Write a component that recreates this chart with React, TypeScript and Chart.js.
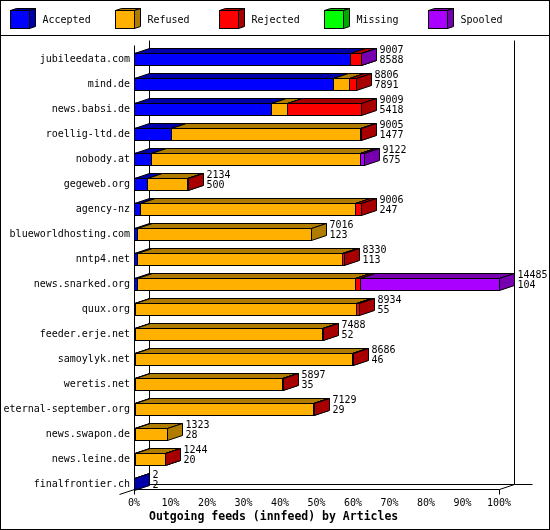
import React, { useEffect, useRef } from "react";
import { Chart, registerables } from "chart.js";

Chart.register(...registerables);

// ---- data ----
const categories = [
  "jubileedata.com",
  "mind.de",
  "news.babsi.de",
  "roellig-ltd.de",
  "nobody.at",
  "gegeweb.org",
  "agency-nz",
  "blueworldhosting.com",
  "nntp4.net",
  "news.snarked.org",
  "quux.org",
  "feeder.erje.net",
  "samoylyk.net",
  "weretis.net",
  "eternal-september.org",
  "news.swapon.de",
  "news.leine.de",
  "finalfrontier.ch",
];
const totals = [9007, 8806, 9009, 9005, 9122, 2134, 9006, 7016, 8330, 14485, 8934, 7488, 8686, 5897, 7129, 1323, 1244, 2];
const accepted = [8588, 7891, 5418, 1477, 675, 500, 247, 123, 113, 104, 55, 52, 46, 35, 29, 28, 20, 2];
const refused = [0, 660, 640, 7500, 8275, 1620, 8540, 6893, 8130, 8660, 8740, 7420, 8603, 5833, 7075, 1295, 1200, 0];
const rejected = [410, 255, 2951, 28, 10, 14, 219, 0, 87, 185, 139, 16, 37, 29, 25, 0, 24, 0];
const missing = [0, 0, 0, 0, 0, 0, 0, 0, 0, 0, 0, 0, 0, 0, 0, 0, 0, 0];
const spooled = [9, 0, 0, 0, 162, 0, 0, 0, 0, 5536, 0, 0, 0, 0, 0, 0, 0, 0];

const seriesNames = ["Accepted", "Refused", "Rejected", "Missing", "Spooled"];
const seriesValues = [accepted, refused, rejected, missing, spooled];
const frontColors = ["#0000ff", "#ffb000", "#ff0000", "#00ff00", "#aa00ff"];
const darkColors = ["#0000a8", "#b07c00", "#a80000", "#00a800", "#7600b0"];
const xTitle = "Outgoing feeds (innfeed) by Articles";

const FONT = '"DejaVu Sans Mono", "Liberation Mono", monospace';
const DX = 15;
const DY = 5;

const maxTotal = Math.max(...totals);

function drawBox(
  ctx: CanvasRenderingContext2D,
  xl: number,
  xr: number,
  yt: number,
  yb: number,
  front: string,
  dark: string,
  dx: number,
  dy: number
) {
  ctx.lineWidth = 1;
  ctx.strokeStyle = "#000";
  // front
  ctx.fillStyle = front;
  ctx.fillRect(xl, yt, xr - xl, yb - yt);
  ctx.strokeRect(xl, yt, xr - xl, yb - yt);
  // top
  ctx.beginPath();
  ctx.moveTo(xl, yt);
  ctx.lineTo(xl + dx, yt - dy);
  ctx.lineTo(xr + dx, yt - dy);
  ctx.lineTo(xr, yt);
  ctx.closePath();
  ctx.fillStyle = dark;
  ctx.fill();
  ctx.stroke();
  // side
  ctx.beginPath();
  ctx.moveTo(xr, yt);
  ctx.lineTo(xr + dx, yt - dy);
  ctx.lineTo(xr + dx, yb - dy);
  ctx.lineTo(xr, yb);
  ctx.closePath();
  ctx.fillStyle = dark;
  ctx.fill();
  ctx.stroke();
}

function line(ctx: CanvasRenderingContext2D, x1: number, y1: number, x2: number, y2: number) {
  ctx.beginPath();
  ctx.moveTo(x1, y1);
  ctx.lineTo(x2, y2);
  ctx.stroke();
}

const threeDPlugin = {
  id: "threeD",
  beforeDraw(chart: any) {
    const ctx = chart.ctx as CanvasRenderingContext2D;
    ctx.save();
    ctx.fillStyle = "#fff";
    ctx.fillRect(0, 0, chart.width, chart.height);
    ctx.restore();
  },
  beforeDatasetsDraw(chart: any) {
    const ctx = chart.ctx as CanvasRenderingContext2D;
    const xs = chart.scales.x;
    const ys = chart.scales.y;
    const x0 = Math.round(xs.getPixelForValue(0)) + 0.5;
    const x1 = Math.round(xs.getPixelForValue(100)) + 0.5;
    const floorY = Math.round(ys.getPixelForValue(categories.length - 1) + 5) + 0.5;
    const frontTop = Math.round(ys.top - 1.5) + 0.5;
    const backTop = frontTop - DY;
    ctx.save();
    ctx.strokeStyle = "#000";
    ctx.lineWidth = 1;
    // front left axis
    line(ctx, x0, frontTop, x0, floorY + 5);
    // back left wall
    line(ctx, x0 + DX, backTop, x0 + DX, floorY - DY);
    // right wall
    line(ctx, x1 + DX, backTop, x1 + DX, floorY - DY);
    // floor back line
    line(ctx, x0 + DX, floorY - DY, x1 + DX + 18, floorY - DY);
    // front axis line
    line(ctx, x0, floorY, x1, floorY);
    // diagonals
    line(ctx, x1, floorY, x1 + DX, floorY - DY);
    line(ctx, x0 - DX, floorY + DY, x0 + DX, floorY - DY);
    // end tick
    line(ctx, x1, floorY, x1, floorY + 5);
    ctx.restore();
  },
  afterDatasetsDraw(chart: any) {
    const ctx = chart.ctx as CanvasRenderingContext2D;
    const n = categories.length;
    ctx.save();
    for (let i = 0; i < n; i++) {
      let endX = -1;
      let cy = 0;
      for (let d = 0; d < chart.data.datasets.length; d++) {
        const meta = chart.getDatasetMeta(d);
        const el = meta.data[i];
        if (!el) continue;
        const p = el.getProps(["x", "y", "base", "height"], true);
        cy = p.y;
        const raw = seriesValues[d][i];
        if (!raw) continue;
        const xl = Math.round(Math.min(p.base, p.x)) + 0.5;
        const xr = Math.round(Math.max(p.base, p.x)) + 0.5;
        const yt = Math.round(p.y - p.height / 2) + 0.5;
        const yb = Math.round(p.y + p.height / 2) + 0.5;
        drawBox(ctx, xl, xr, yt, yb, frontColors[d], darkColors[d], DX, DY);
        endX = Math.max(endX, xr);
      }
      if (endX >= 0) {
        ctx.fillStyle = "#000";
        ctx.font = `10px ${FONT}`;
        ctx.textAlign = "left";
        ctx.textBaseline = "middle";
        const tx = endX + DX + 3;
        ctx.fillText(String(totals[i]), tx, cy - 9);
        ctx.fillText(String(accepted[i]), tx, cy + 1);
      }
    }
    ctx.restore();
  },
  afterDraw(chart: any) {
    const ctx = chart.ctx as CanvasRenderingContext2D;
    const W = chart.width;
    const H = chart.height;
    ctx.save();
    ctx.strokeStyle = "#000";
    ctx.lineWidth = 1;
    // outer frame
    ctx.strokeRect(0.5, 0.5, W - 1, H - 1);
    // legend separator
    line(ctx, 0, 35.5, W, 35.5);
    // legend
    for (let d = 0; d < seriesNames.length; d++) {
      const bx = Math.round(10 + d * 104.5) + 0.5;
      drawBox(ctx, bx, bx + 19, 10.5, 28.5, frontColors[d], darkColors[d], 6, 2);
      ctx.fillStyle = "#000";
      ctx.font = `10px ${FONT}`;
      ctx.textAlign = "left";
      ctx.textBaseline = "middle";
      ctx.fillText(seriesNames[d], bx + 32, 20);
    }
    // x title
    const xs = chart.scales.x;
    ctx.fillStyle = "#000";
    ctx.font = `bold 11.5px ${FONT}`;
    ctx.textAlign = "left";
    ctx.textBaseline = "middle";
    ctx.fillText(xTitle, xs.getPixelForValue(0) + DX, 517);
    ctx.restore();
  },
};

export default function App() {
  const ref = useRef<HTMLCanvasElement | null>(null);
  useEffect(() => {
    if (!ref.current) return;
    const datasets = seriesNames.map((name, d) => ({
      label: name,
      data: seriesValues[d].map((v) => (v / maxTotal) * 100),
      backgroundColor: frontColors[d],
      borderWidth: 0,
      barThickness: 12,
    }));
    const chart = new Chart(ref.current, {
      type: "bar",
      data: { labels: categories, datasets },
      options: {
        indexAxis: "y",
        animation: false,
        responsive: false,
        devicePixelRatio: 1,
        layout: { padding: { left: 0, top: 46.5, right: 51, bottom: 0 } },
        plugins: { legend: { display: false }, tooltip: { enabled: false }, title: { display: false } },
        scales: {
          x: {
            stacked: true,
            min: 0,
            max: 100,
            ticks: {
              stepSize: 10,
              color: "#000",
              font: { family: FONT, size: 10 },
              padding: 1,
              maxRotation: 0,
              callback: (v: any) => `${v}%`,
            },
            grid: { display: false, drawTicks: false },
            border: { display: false },
            afterFit: (s: any) => {
              s.height = 33.5;
            },
          },
          y: {
            stacked: true,
            ticks: {
              color: "#000",
              font: { family: FONT, size: 10 },
              padding: 4,
              autoSkip: false,
            },
            grid: { display: false, drawTicks: false },
            border: { display: false },
            afterFit: (s: any) => {
              s.width = 134;
            },
          },
        },
      },
      plugins: [threeDPlugin],
    });
    return () => chart.destroy();
  }, []);
  return (
    <div style={{ position: "fixed", left: 0, top: 0, width: 550, height: 530, background: "#fff" }}>
      <canvas ref={ref} width={550} height={530} style={{ display: "block", width: 550, height: 530 }} />
    </div>
  );
}
